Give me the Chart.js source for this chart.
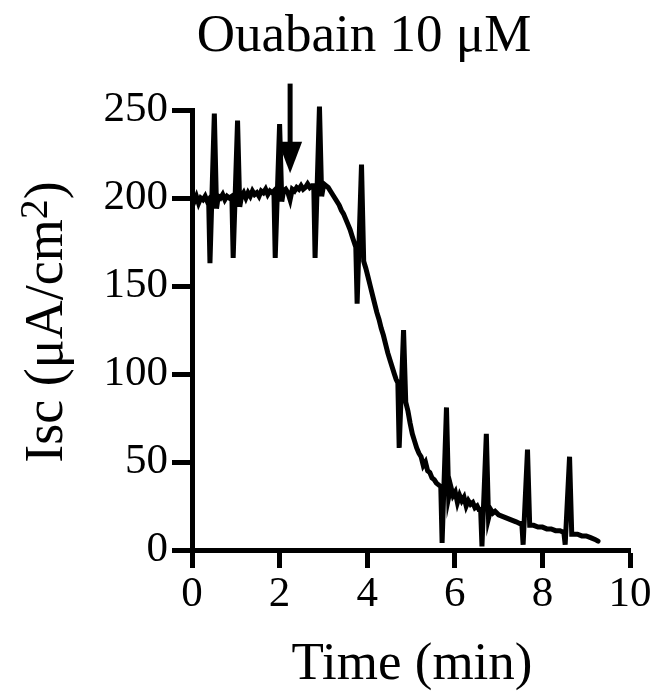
<!DOCTYPE html>
<html>
<head>
<meta charset="utf-8">
<script src="https://cdn.jsdelivr.net/npm/chart.js@4/dist/chart.umd.min.js"></script>
<style>
  html, body { margin: 0; padding: 0; background: #fff; }
</style>
</head>
<body>
<canvas id="iscChart" width="659" height="696"></canvas>
<script>
// trace between the voltage pulses (min, uA/cm2)
const baseTime = [
  0.00, 0.05, 0.10, 0.15, 0.20, 0.25, 0.30, 0.35, 0.38,
  0.56, 0.60, 0.65, 0.70, 0.75, 0.80, 0.85, 0.91,
  1.09, 1.13, 1.18, 1.23, 1.28, 1.33, 1.38, 1.43, 1.48, 1.53, 1.58, 1.63, 1.68, 1.73, 1.78, 1.83, 1.87,
  2.05, 2.09, 2.14, 2.19, 2.24, 2.29, 2.34, 2.39, 2.44, 2.49, 2.54, 2.59, 2.64, 2.69, 2.74, 2.78,
  2.96, 3.01, 3.06, 3.11, 3.16, 3.21, 3.26, 3.31, 3.36, 3.41, 3.46, 3.51, 3.56, 3.61, 3.66, 3.70, 3.74,
  3.92, 3.97, 4.02, 4.07, 4.12, 4.17, 4.22, 4.27, 4.32, 4.37, 4.42, 4.47, 4.52, 4.57, 4.62, 4.66, 4.70,
  4.88, 4.93, 4.98, 5.03, 5.08, 5.13, 5.18, 5.23, 5.28, 5.33, 5.38, 5.43, 5.48, 5.53, 5.58, 5.63, 5.68,
  5.86, 5.91, 5.96, 6.01, 6.06, 6.11, 6.16, 6.21, 6.26, 6.31, 6.36, 6.41, 6.46, 6.51, 6.55, 6.59,
  6.77, 6.82, 6.87, 6.92, 7.00, 7.10, 7.20, 7.30, 7.40, 7.48, 7.53,
  7.71, 7.80, 7.90, 8.00, 8.10, 8.20, 8.30, 8.40, 8.49,
  8.67, 8.80, 8.90, 9.00, 9.10, 9.20, 9.27
];
const baseIsc = [
  200, 198, 201, 197, 200, 199, 201, 198, 199,
  194, 201, 200, 202, 199, 201, 200, 201,
  195, 201, 203, 200, 203, 201, 204, 202, 203, 201, 204, 203, 205, 202, 204, 203, 204,
  198, 204, 205, 203, 199, 205, 204, 206, 205, 207, 205, 206, 208, 206, 207, 207,
  201, 208, 207, 206, 204, 202, 200, 198, 196, 193, 191, 188, 185, 182, 178, 175, 172,
  164, 160, 155, 150, 145, 140, 135, 131, 126, 122, 117, 112, 108, 104, 100, 97, 95,
  84, 79, 72, 66, 62, 58, 55, 53, 48, 50, 45, 44, 41, 40, 38, 37, 36,
  30, 36, 31, 33, 27, 31, 28, 30, 25, 28, 26, 27, 24, 25, 23, 23,
  18, 23, 21, 22, 20, 19, 18, 17, 16, 15, 15,
  14, 14, 13, 13, 12, 12, 11, 11, 10,
  9, 9, 8, 8, 7, 6, 5
];

// voltage pulses
const pulseTime = [0.41, 0.94, 1.90, 2.81, 3.77, 4.73, 5.71, 6.62, 7.56, 8.52];
const pulseLow  = [163, 166, 166, 166, 140, 58, 4, 2, 3, 3];
const pulseHigh = [248, 244, 242, 252, 219, 125, 81, 66, 57, 53];

// ouabain addition
const arrowTime = 2.24;
const arrowFrom = 265;
const arrowHead = 232;
const arrowTo = 214;

const xTicks = [0, 2, 4, 6, 8, 10];
const yTicks = [0, 50, 100, 150, 200, 250];

const points = baseTime.map((t, i) => ({ x: t, y: baseIsc[i] }));
pulseTime.forEach((t, i) => {
  points.push({ x: t, y: pulseLow[i] });
  points.push({ x: t + 0.1, y: pulseHigh[i] });
});
points.sort((a, b) => a.x - b.x);

const serif = "'Liberation Serif', 'Times New Roman', serif";

const textPlugin = {
  id: "textPlugin",
  afterDraw(chart) {
    const ctx = chart.ctx;
    const xs = chart.scales.x;
    const ys = chart.scales.y;

    // arrow
    const ax = xs.getPixelForValue(arrowTime);
    ctx.save();
    ctx.strokeStyle = "#000";
    ctx.fillStyle = "#000";
    ctx.lineWidth = 5;
    ctx.beginPath();
    ctx.moveTo(ax, ys.getPixelForValue(arrowFrom));
    ctx.lineTo(ax, ys.getPixelForValue(arrowHead) + 2);
    ctx.stroke();
    ctx.beginPath();
    ctx.moveTo(ax - 12, ys.getPixelForValue(arrowHead));
    ctx.lineTo(ax + 12, ys.getPixelForValue(arrowHead));
    ctx.lineTo(ax, ys.getPixelForValue(arrowTo));
    ctx.closePath();
    ctx.fill();

    // title
    ctx.font = "53px " + serif;
    ctx.textAlign = "center";
    ctx.textBaseline = "alphabetic";
    ctx.fillText("Ouabain 10 μM", 364, 51);

    // x title
    ctx.fillText("Time (min)", 412, 679);

    // y title with superscript
    const partA = "Isc (μA/cm";
    const partB = "2";
    const partC = ")";
    ctx.font = "54px " + serif;
    const wA = ctx.measureText(partA).width;
    const wC = ctx.measureText(partC).width;
    ctx.font = "40px " + serif;
    const wB = ctx.measureText(partB).width;
    const total = wA + wB + wC;
    ctx.translate(62, 322);
    ctx.rotate(-Math.PI / 2);
    ctx.textAlign = "left";
    ctx.font = "54px " + serif;
    ctx.fillText(partA, -total / 2, 0);
    ctx.font = "40px " + serif;
    ctx.fillText(partB, -total / 2 + wA, -15);
    ctx.font = "54px " + serif;
    ctx.fillText(partC, -total / 2 + wA + wB, 0);
    ctx.restore();
  }
};

new Chart(document.getElementById("iscChart"), {
  type: "line",
  data: {
    datasets: [
      {
        data: points,
        borderColor: "#000",
        borderWidth: 5,
        borderCapStyle: "round",
        pointRadius: 0,
        tension: 0,
        clip: false
      }
    ]
  },
  options: {
    responsive: false,
    animation: false,
    layout: { padding: { top: 110, right: 29, left: 0, bottom: 0 } },
    plugins: {
      legend: { display: false },
      tooltip: { enabled: false }
    },
    scales: {
      x: {
        type: "linear",
        min: 0,
        max: 10,
        afterBuildTicks: (s) => { s.ticks = xTicks.map((v) => ({ value: v })); },
        afterFit: (s) => { s.height = 146; },
        border: { display: true, color: "#000", width: 5 },
        grid: { drawOnChartArea: false, drawTicks: true, tickLength: 18, tickWidth: 5, tickColor: "#000" },
        ticks: { color: "#000", padding: 1, maxRotation: 0, font: { family: serif, size: 43 } }
      },
      y: {
        type: "linear",
        min: 0,
        max: 250,
        afterBuildTicks: (s) => { s.ticks = yTicks.map((v) => ({ value: v })); },
        afterFit: (s) => { s.width = 192; },
        border: { display: true, color: "#000", width: 5 },
        grid: { drawOnChartArea: false, drawTicks: true, tickLength: 20, tickWidth: 5, tickColor: "#000" },
        ticks: { color: "#000", padding: 4, font: { family: serif, size: 43 } }
      }
    }
  },
  plugins: [textPlugin]
});
</script>
</body>
</html>
